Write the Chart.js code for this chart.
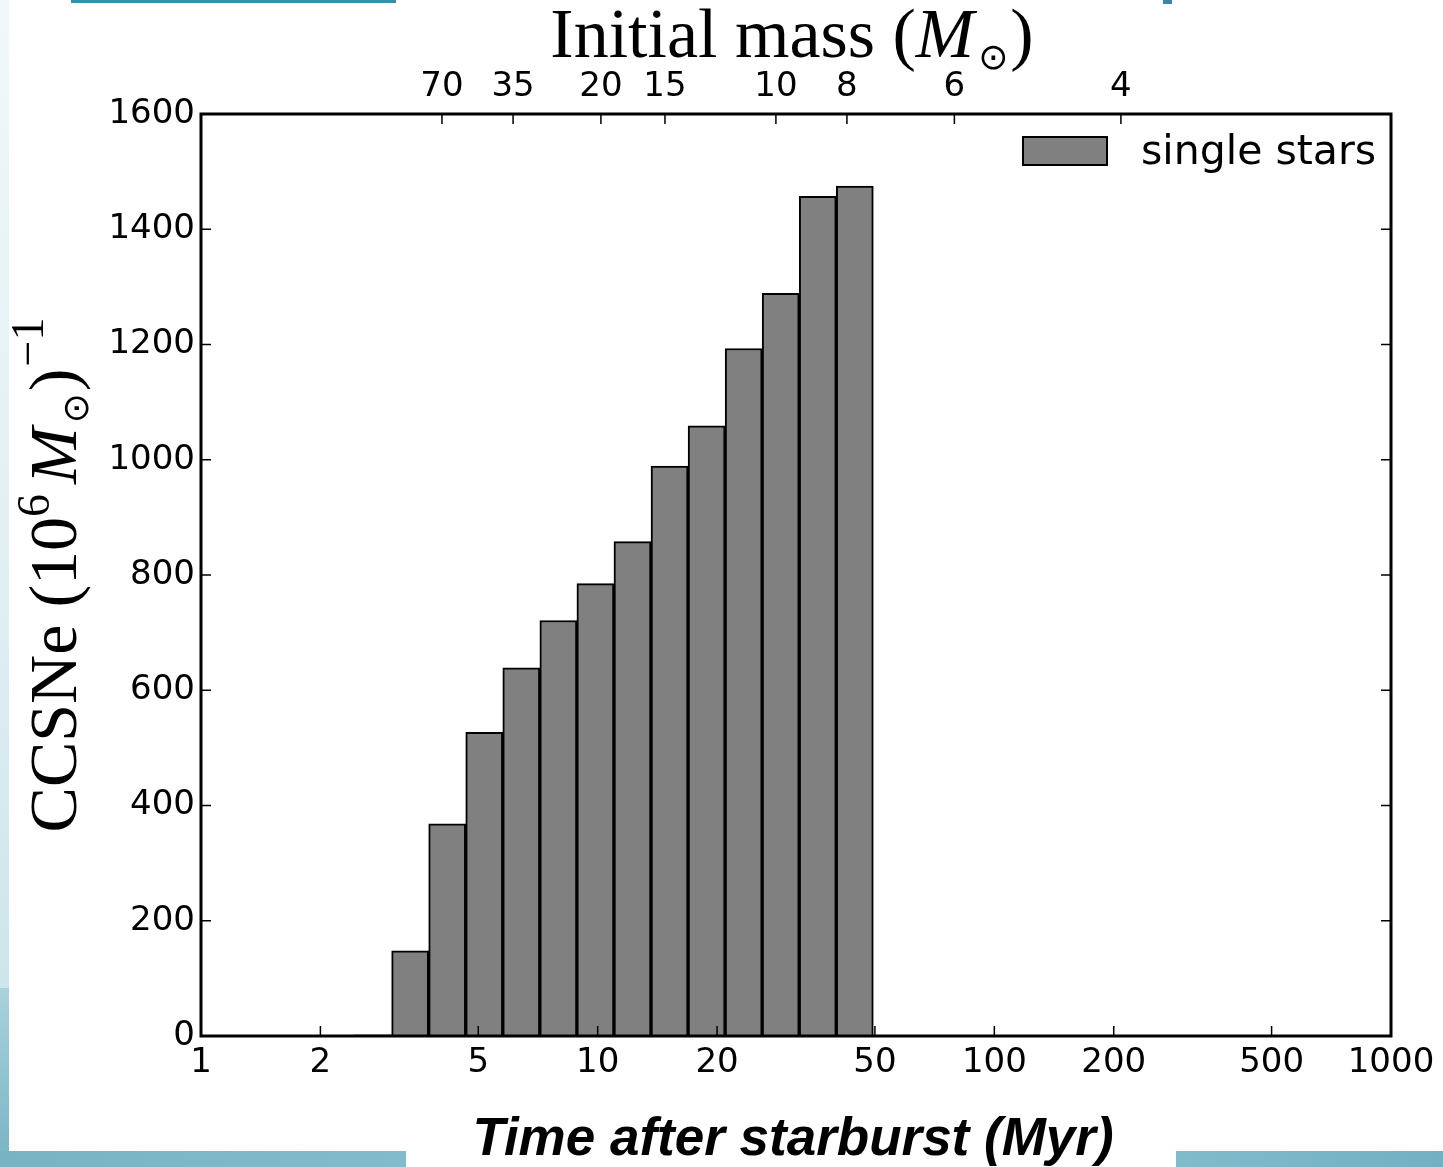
<!DOCTYPE html>
<html>
<head>
<meta charset="utf-8">
<script src="https://cdn.jsdelivr.net/npm/chart.js@4"></script>
<style>
  html, body { margin: 0; padding: 0; background: #fff; overflow: hidden; }
  #wrap { position: relative; width: 1443px; height: 1167px; }
  .deco { position: absolute; }
  canvas { position: absolute; left: 0; top: 0; }
</style>
</head>
<body>
<div id="wrap">
  <div class="deco" style="left:71px;top:0;width:325px;height:3px;background:#3a8db2"></div>
  <div class="deco" style="left:1163px;top:0;width:9px;height:4px;background:#3a86b0"></div>
  <div class="deco" style="left:0;top:0;width:9px;height:988px;background:linear-gradient(to bottom,#f0f8fa,#e0eff3 60%,#cde5ec)"></div>
  <div class="deco" style="left:0;top:988px;width:9px;height:179px;background:linear-gradient(to bottom,#a9d2dc,#78b3c4)"></div>
  <div class="deco" style="left:0;top:1151px;width:406px;height:16px;background:linear-gradient(to right,#78b3c4,#82bccc)"></div>
  <div class="deco" style="left:1176px;top:1151px;width:267px;height:16px;background:linear-gradient(to right,#80bbcb,#72b0c3)"></div>
  <canvas id="chart" width="1443" height="1167"></canvas>
</div>
<script>
// histogram bins (Myr, log spaced) and counts per bin
const binEdges = [2.439, 3.024, 3.750, 4.649, 5.765, 7.148, 8.864, 10.99, 13.63, 16.90, 20.96, 25.98, 32.22, 39.95, 49.54];
const counts = [2, 148, 368, 527, 639, 721, 785, 858, 989, 1059, 1193, 1289, 1457, 1475];

// axis ticks
const timeTicks = [1, 2, 5, 10, 20, 50, 100, 200, 500, 1000];
const yTicks = [0, 200, 400, 600, 800, 1000, 1200, 1400, 1600];
// top axis: initial mass labels placed at their lifetimes (Myr)
const massLabels = ['70', '35', '20', '15', '10', '8', '6', '4'];
const massTimes = [4.05, 6.12, 10.19, 14.78, 28.14, 42.5, 79.3, 208.5];

const tickFont = { family: 'DejaVu Sans', size: 34 };
const serif = 'Liberation Serif';

const binCenters = counts.map((c, i) => Math.sqrt(binEdges[i] * binEdges[i + 1]));

function drawRich(ctx, parts, cx, y) {
  let total = 0;
  parts.forEach(p => { ctx.font = p.font; p.w = ctx.measureText(p.text).width + (p.gap || 0); total += p.w; });
  let x = cx - total / 2;
  parts.forEach(p => {
    ctx.font = p.font;
    ctx.fillText(p.text, x + (p.gap || 0), y + (p.dy || 0));
    x += p.w;
  });
}

// inward ticks, frame, legend and titles
const decorations = {
  id: 'decorations',
  afterDatasetsDraw(chart) {
    const { ctx, chartArea: a, scales } = chart;
    const L = 10;
    ctx.save();
    ctx.strokeStyle = '#000';
    ctx.lineWidth = 1.5;
    ctx.beginPath();
    timeTicks.forEach(v => {
      const px = scales.x.getPixelForValue(v);
      ctx.moveTo(px, a.bottom); ctx.lineTo(px, a.bottom - L);
    });
    massTimes.forEach(v => {
      const px = scales.x2.getPixelForValue(v);
      ctx.moveTo(px, a.top); ctx.lineTo(px, a.top + L);
    });
    yTicks.forEach(v => {
      const py = scales.y.getPixelForValue(v);
      ctx.moveTo(a.left, py); ctx.lineTo(a.left + L, py);
      ctx.moveTo(a.right, py); ctx.lineTo(a.right - L, py);
    });
    ctx.stroke();

    ctx.lineWidth = 3;
    ctx.strokeRect(a.left, a.top, a.right - a.left, a.bottom - a.top);

    // legend
    ctx.fillStyle = '#808080';
    ctx.fillRect(a.right - 368, a.top + 23, 84, 28);
    ctx.lineWidth = 2;
    ctx.strokeRect(a.right - 368, a.top + 23, 84, 28);
    ctx.fillStyle = '#000';
    ctx.font = '41px "DejaVu Sans"';
    ctx.textAlign = 'left';
    ctx.textBaseline = 'middle';
    ctx.fillText('single stars', a.right - 250, a.top + 39);

    const cx = (a.left + a.right) / 2;
    ctx.textBaseline = 'alphabetic';

    // top title
    drawRich(ctx, [
      { text: 'Initial mass (', font: '70px "' + serif + '"' },
      { text: 'M', font: 'italic 70px "' + serif + '"' },
      { text: '\u2299', font: '36px "DejaVu Sans"', dy: 12, gap: 4 },
      { text: ')', font: '70px "' + serif + '"', gap: 2 }
    ], cx - 4, 57);

    // bottom title
    ctx.font = 'italic bold 53px "Liberation Sans"';
    ctx.textAlign = 'center';
    ctx.fillText('Time after starburst (Myr)', cx - 3, 1155);

    // y title, rotated
    ctx.textAlign = 'left';
    ctx.translate(76, (a.top + a.bottom) / 2);
    ctx.rotate(-Math.PI / 2);
    drawRich(ctx, [
      { text: 'CCSNe (10', font: '68px "' + serif + '"' },
      { text: '6', font: '46px "' + serif + '"', dy: -27 },
      { text: 'M', font: 'italic 68px "' + serif + '"', gap: 10 },
      { text: '\u2299', font: '36px "DejaVu Sans"', dy: 12, gap: 4 },
      { text: ')', font: '68px "' + serif + '"', gap: 2 },
      { text: '\u22121', font: '46px "' + serif + '"', dy: -33, gap: 2 }
    ], 0, 0);
    ctx.restore();
  }
};

new Chart(document.getElementById('chart').getContext('2d'), {
  type: 'bar',
  data: {
    datasets: [{
      label: 'single stars',
      data: binCenters.map((c, i) => ({ x: c, y: counts[i] })),
      backgroundColor: '#808080',
      borderColor: '#000',
      borderWidth: 2,
      borderSkipped: 'bottom',
      barPercentage: 1,
      categoryPercentage: 1
    }]
  },
  options: {
    responsive: false,
    animation: false,
    devicePixelRatio: 1,
    layout: { padding: { left: 0, right: 52, top: 0, bottom: 0 } },
    plugins: { legend: { display: false }, tooltip: { enabled: false } },
    scales: {
      x: {
        type: 'logarithmic', position: 'bottom', min: 1, max: 1000, offset: false,
        afterBuildTicks: s => { s.ticks = timeTicks.map(v => ({ value: v })); },
        afterFit: s => { s.height = 131; },
        ticks: { autoSkip: false, maxRotation: 0, padding: 7, color: '#000', font: tickFont, callback: v => String(v) },
        grid: { display: false, drawTicks: false, offset: false },
        border: { display: false }
      },
      x2: {
        type: 'logarithmic', position: 'top', min: 1, max: 1000, offset: false,
        afterBuildTicks: s => { s.ticks = massTimes.map(v => ({ value: v })); },
        afterFit: s => { s.height = 114; },
        ticks: { autoSkip: false, maxRotation: 0, padding: 6, color: '#000', font: tickFont, callback: (v, i) => massLabels[i] },
        grid: { display: false, drawTicks: false },
        border: { display: false }
      },
      y: {
        type: 'linear', min: 0, max: 1600,
        afterBuildTicks: s => { s.ticks = yTicks.map(v => ({ value: v })); },
        afterFit: s => { s.width = 201; },
        ticks: { padding: 6, color: '#000', font: tickFont, callback: v => String(v) },
        grid: { display: false, drawTicks: false },
        border: { display: false }
      }
    }
  },
  plugins: [decorations]
});
</script>
</body>
</html>
